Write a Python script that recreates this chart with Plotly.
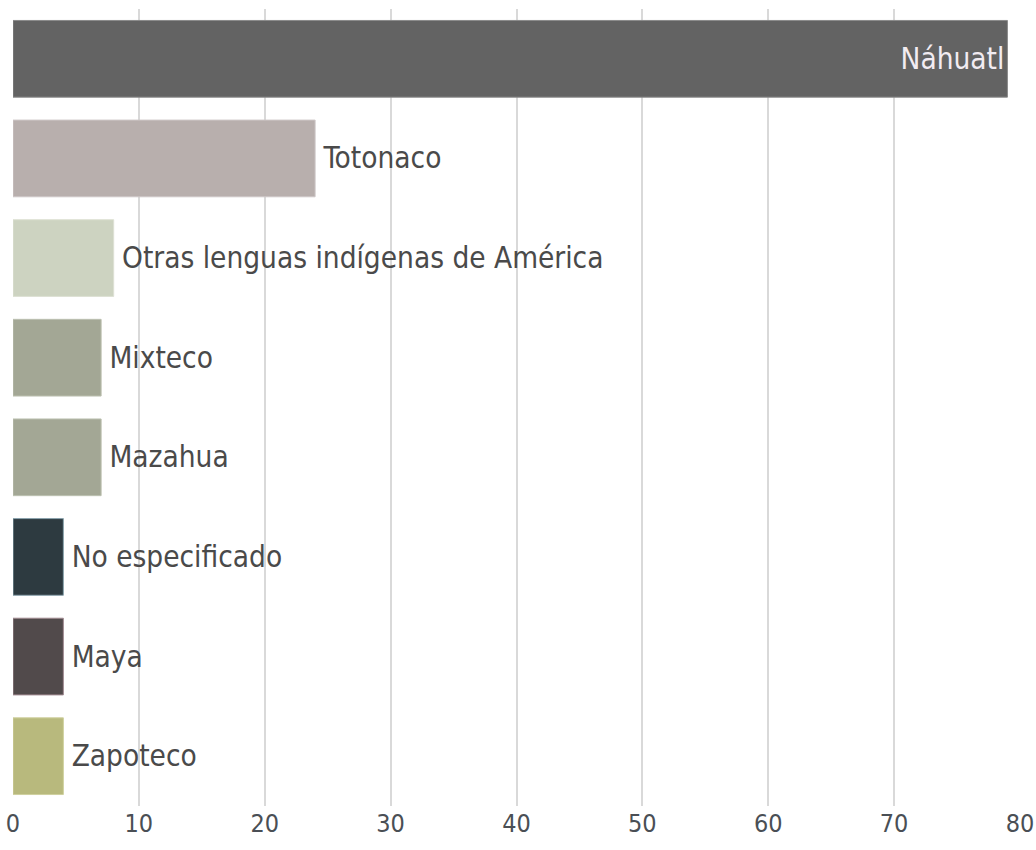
import plotly.graph_objects as go

categories = ["Náhuatl", "Totonaco", "Otras lenguas indígenas de América", "Mixteco",
              "Mazahua", "No especificado", "Maya", "Zapoteco"]
values = [79, 24, 8, 7, 7, 4, 4, 4]
colors = ["#636363", "#b8afad", "#cdd3c1", "#a3a795", "#a3a795", "#2d3a40", "#514a4b", "#b8b97d"]
line_colors = ["#8a8a8a", "#cdc6c6", "#dde1d4", "#bcc0b0", "#bcc0b0", "#8aa3ad", "#a08a90", "#cfd09e"]
positions = ["inside"] + ["outside"] * 7
tick_vals = [0, 10, 20, 30, 40, 50, 60, 70, 80]

FONT = "Liberation Sans Narrow, DejaVu Sans Condensed, Arial Narrow, sans-serif"

texts = [c if p == "inside" else "\u2009" + c for c, p in zip(categories, positions)]

fig = go.Figure(go.Bar(
    y=categories, x=values, orientation="h",
    marker=dict(color=colors, line=dict(color=line_colors, width=1)),
    text=texts, textposition=positions,
    insidetextanchor="end",
    insidetextfont=dict(family=FONT, size=29.5, color="#f2ecf2"),
    outsidetextfont=dict(family=FONT, size=29.5, color="#4a4a4a"),
    cliponaxis=False,
    hoverinfo="skip",
))

fig.update_layout(
    width=1036, height=850,
    margin=dict(l=13, r=16, t=9, b=44),
    plot_bgcolor="white", paper_bgcolor="white",
    bargap=0.23,
    showlegend=False,
    uniformtext=dict(mode=False),
)
fig.update_xaxes(range=[0, 80], tickvals=tick_vals, showgrid=True, gridcolor="#d9d9d9",
                 gridwidth=2, zeroline=False, showline=False, automargin=False,
                 ticklabeloverflow="allow",
                 tickfont=dict(family=FONT, size=25, color="#4a4f55"), ticks="", ticklen=0)
fig.update_yaxes(autorange="reversed", showticklabels=False, showgrid=False, zeroline=False,
                 automargin=False)

fig.write_html("out.html", config={"displayModeBar": False},
               post_script="document.body.style.margin='0';document.body.style.padding='0';")
